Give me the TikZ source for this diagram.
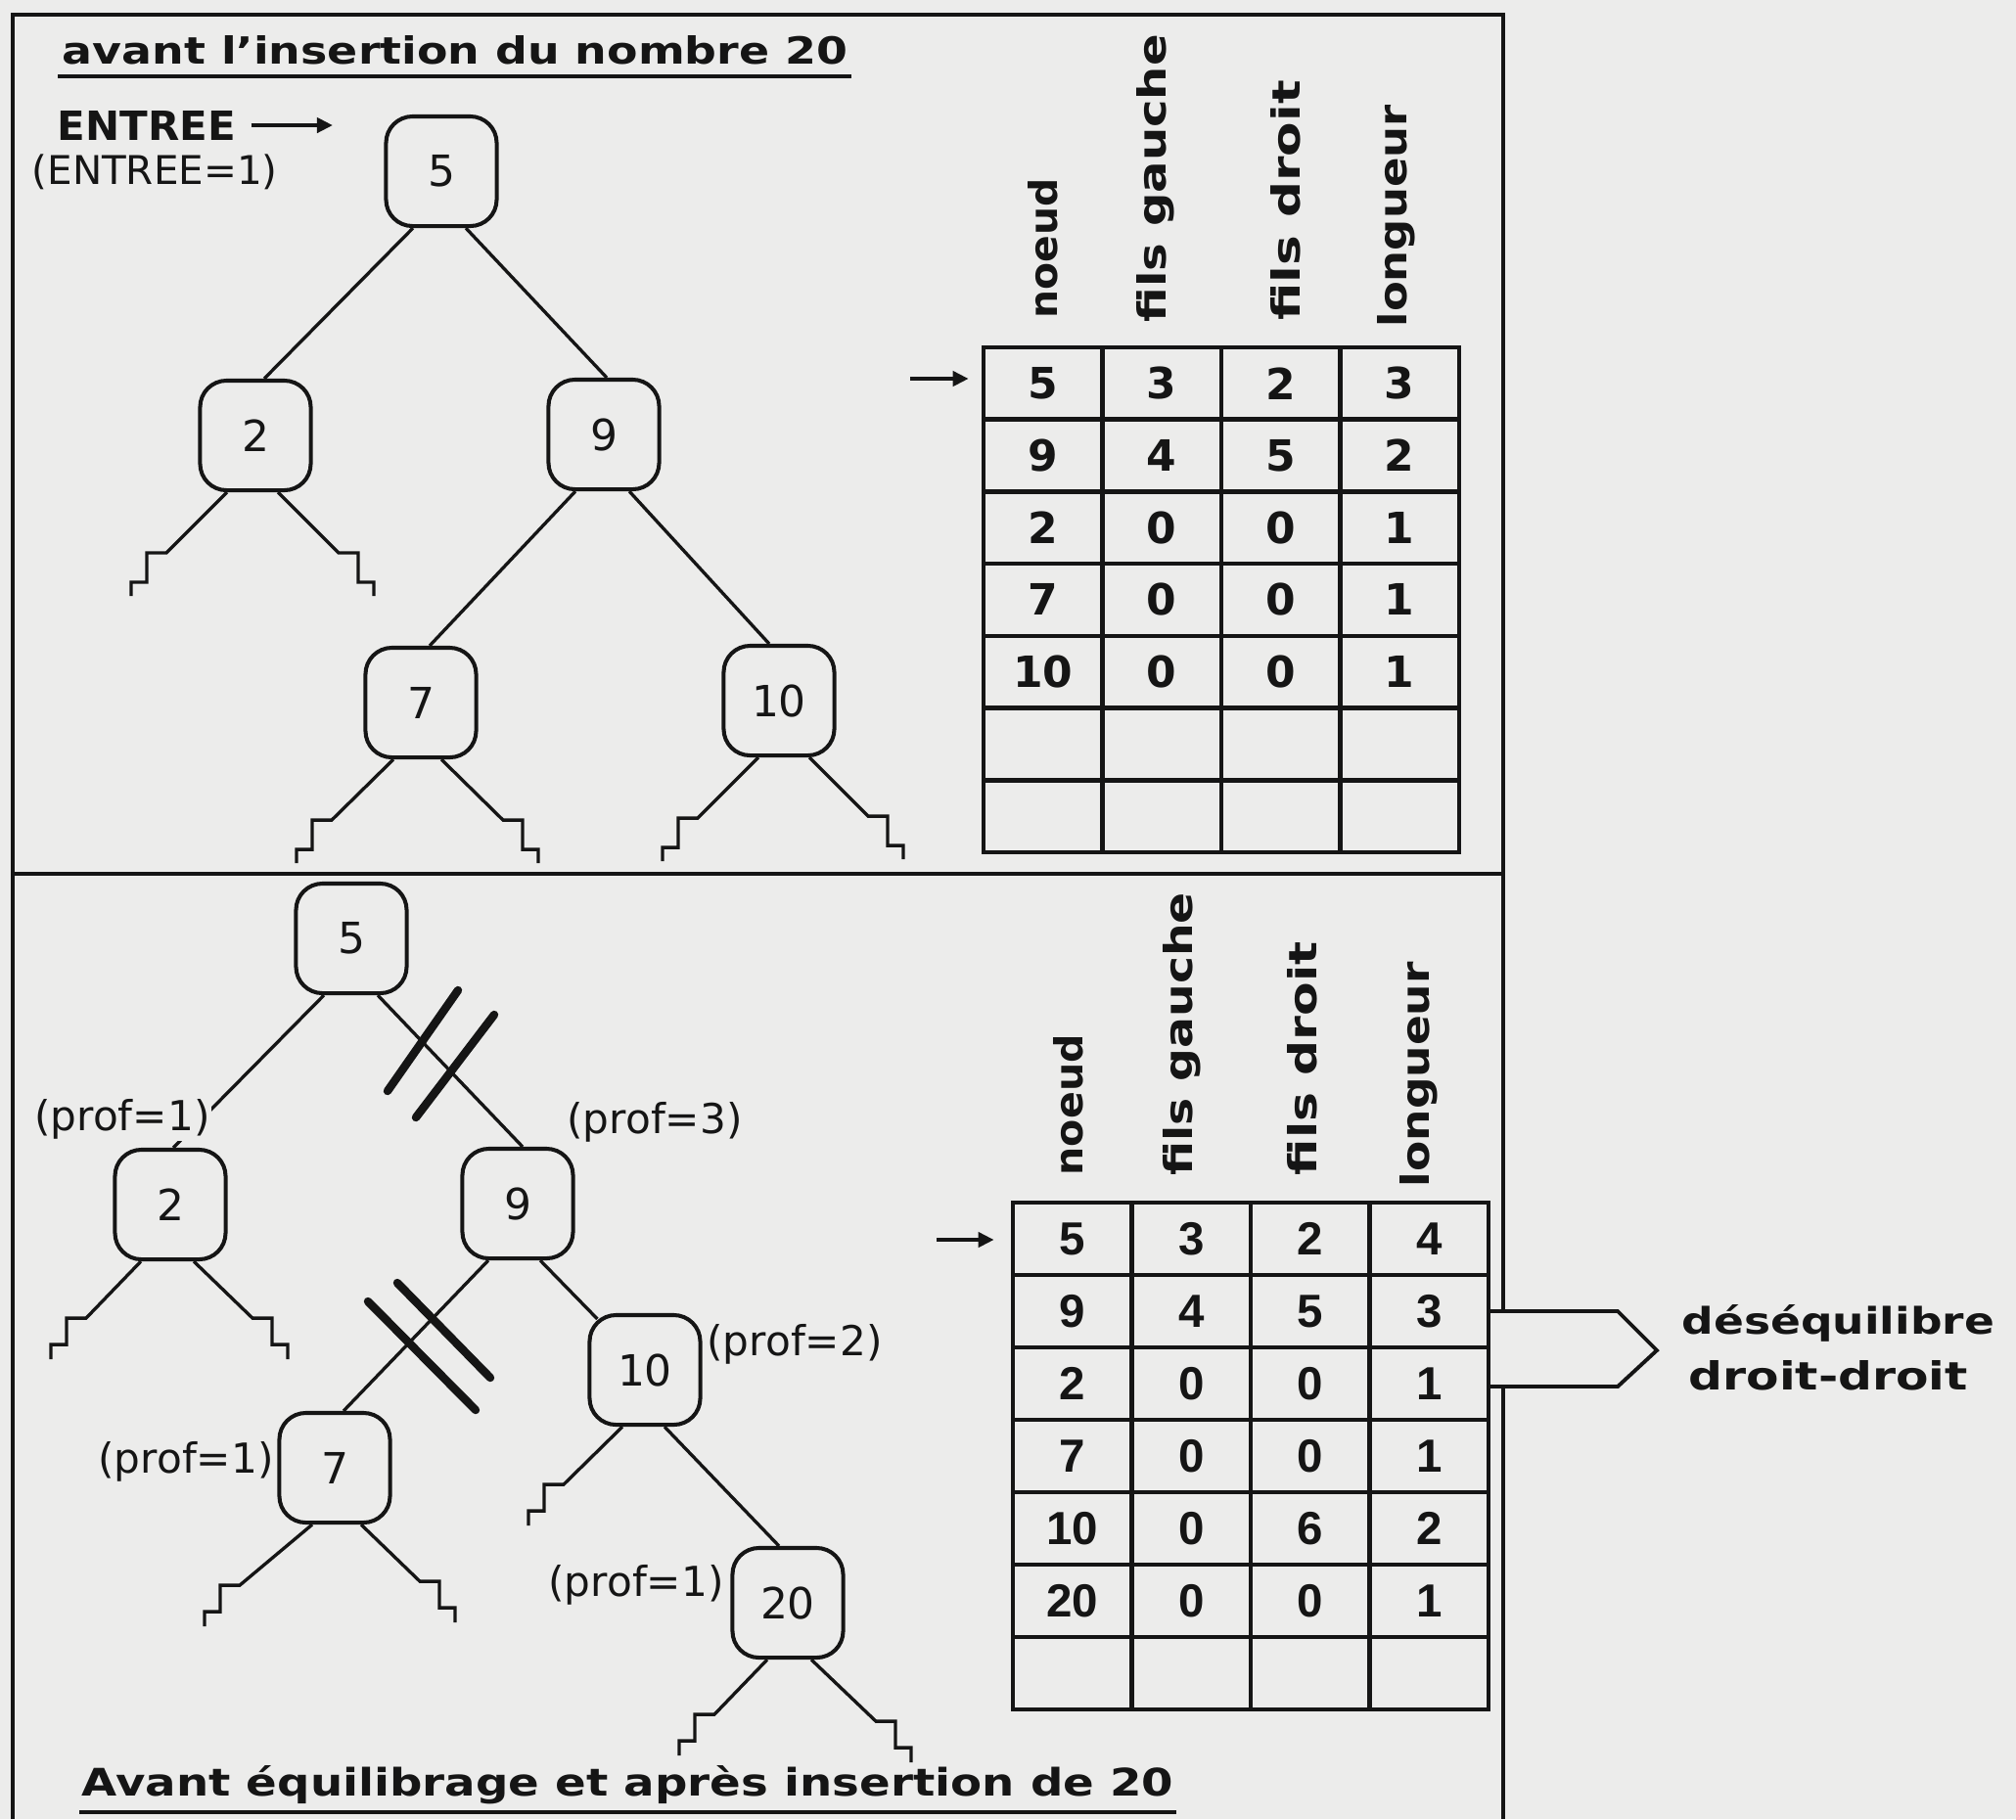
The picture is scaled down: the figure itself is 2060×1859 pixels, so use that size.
\documentclass[tikz,border=0pt]{standalone}
\usepackage{fontspec}
\usepackage{graphicx}
\setmainfont{DejaVu Sans}
\newfontfamily\cellfont{Liberation Sans}
\usetikzlibrary{calc,arrows.meta}
\definecolor{paper}{HTML}{ECECEB}
\definecolor{ink}{HTML}{151515}
% scale a piece of text to a given width and height
\newcommand\fitto[3]{\resizebox{#1}{#2}{#3}}
% open subtree: slanted line from a node, ending in a small staircase
% #1 node, #2 x offset on its bottom side, #3/#4 slanted part, #5 side (-1/1), #6/#7 the two risers
\newcommand\stub[7]{\draw[edge] ($(#1.south)+(#2,0)$) -- ++(#3,#4) -- ++({#5*20},0) -- ++(0,#6) -- ++({#5*16},0) -- ++(0,#7);}
\begin{document}
\begin{tikzpicture}[x=0.01cm,y=-0.01cm,
  frame/.style={ink, line width=1.2pt},
  edge/.style={ink, line width=0.95pt},
  slash/.style={ink, line width=2.4pt, line cap=round},
  arrowk/.style={ink, line width=1.2pt, -{Triangle[length=0.16cm,width=0.15cm]}},
  tnode/.style={draw=ink, line width=1.15pt, rounded corners=0.27cm,
    minimum width=1.13cm, minimum height=1.12cm, inner sep=0pt, text=ink,
    font=\fontsize{12.5}{14}\selectfont},
  cellU/.style={draw=ink, line width=1.3pt, minimum width=1.215cm, minimum height=0.737cm, inner sep=0pt},
  cellL/.style={draw=ink, line width=1.3pt, minimum width=1.215cm, minimum height=0.74cm, inner sep=0pt},
  numU/.style={text=ink, inner sep=0pt, font=\fontsize{12.5}{14}\selectfont\bfseries},
  numL/.style={text=ink, inner sep=0pt, font=\fontsize{13.5}{15}\cellfont\bfseries},
  lab/.style={text=ink, inner sep=0.5pt, fill=paper, anchor=base west, font=\fontsize{12}{14}\selectfont},
  hdr/.style={text=ink, inner sep=0pt, rotate=90, anchor=base west},
  txt/.style={text=ink, inner sep=0pt, anchor=base west}]

% page
\fill[paper] (0,0) rectangle (2060,1859);
\useasboundingbox (0,0) rectangle (2060,1859);

% outer frame and divider
\draw[frame] (13,1859) -- (13,15) -- (1536,15) -- (1536,1859);
\draw[frame] (13,893) -- (1536,893);

% ---------------- upper panel ----------------
\node[txt] (title1) at (63,65) {\fitto{8.02cm}{0.29cm}{\bfseries avant l'insertion du nombre 20}};
\draw[ink, line width=1.15pt] ($(title1.base west)+(-4,13)$) -- ($(title1.base east)+(3,13)$);

\node[txt] (entree) at (58,143) {\fitto{1.82cm}{0.30cm}{\bfseries ENTREE}};
\coordinate (entreeTip) at (340,128);
\draw[arrowk] ($(entree.base east)+(15,-15)$) -- (entreeTip);
\node[txt, font=\fontsize{11.5}{14}\selectfont] (entreeval) at (32,188) {(ENTREE=1)};

\node[tnode] (a5) at (451,175) {5};
\node[tnode] (a2) at (261,445) {2};
\node[tnode] (a9) at (617,444) {9};
\node[tnode] (a7) at (430,718) {7};
\node[tnode] (a10) at (796,716) {10};

\draw[edge] ($(a5.south)+(-29,0)$) -- ($(a2.north)+(9,0)$);
\draw[edge] ($(a5.south)+(25,0)$) -- ($(a9.north)+(3,0)$);
\draw[edge] ($(a9.south)+(-29,0)$) -- ($(a7.north)+(9,0)$);
\draw[edge] ($(a9.south)+(26,0)$) -- ($(a10.north)+(-10,0)$);

\stub{a2}{-29}{-62}{62}{-1}{30}{14}
\stub{a2}{23}{62}{62}{1}{30}{14}
\stub{a7}{-28}{-63}{62}{-1}{30}{14}
\stub{a7}{21}{63}{62}{1}{30}{14}
\stub{a10}{-21}{-62}{62}{-1}{30}{14}
\stub{a10}{31}{60}{60}{1}{30}{14}

% upper table
\foreach \r in {1,...,7} \foreach \c in {1,...,4}
  \node[cellU] (U\r\c) at ({1005+121.5*(\c-0.5)},{355+73.7*(\r-0.5)}) {};
\foreach \r/\a/\b/\c/\d in {1/5/3/2/3,2/9/4/5/2,3/2/0/0/1,4/7/0/0/1,5/10/0/0/1} {
  \node[numU] (nU\r1) at (U\r1) {\a};
  \node[numU] (nU\r2) at (U\r2) {\b};
  \node[numU] (nU\r3) at (U\r3) {\c};
  \node[numU] (nU\r4) at (U\r4) {\d};
}
\node[hdr] (hU1) at (1080,326) {\fitto{1.43cm}{0.30cm}{\bfseries noeud}};
\node[hdr] (hU2) at (1191,330) {\fitto{2.94cm}{0.30cm}{\bfseries fils gauche}};
\node[hdr] (hU3) at (1328,328) {\fitto{2.45cm}{0.30cm}{\bfseries fils droit}};
\node[hdr] (hU4) at (1437,335) {\fitto{2.27cm}{0.30cm}{\bfseries longueur}};
\coordinate (uTail) at (930,387);
\draw[arrowk, shorten >=0.13cm] (uTail) -- (uTail -| U11.west);

% ---------------- lower panel ----------------
% pointer towards the diagnosis, laid over the frame line
\coordinate (pb) at (1521,1377);
\filldraw[fill=paper, draw=ink, line width=1.1pt] ($(pb)+(0,-37)$) -- ++(132,0) -- ++(40,40) -- ++(-40,37) -- ++(-132,0);
\node[txt] (deseq) at (1718,1363) {\fitto{3.19cm}{0.30cm}{\bfseries déséquilibre}};
\node[txt] (drdr) at (1725,1420) {\fitto{2.85cm}{0.30cm}{\bfseries droit-droit}};

\node[tnode] (b5) at (359,959) {5};
\node[tnode] (b2) at (174,1231) {2};
\node[tnode] (b9) at (529,1230) {9};
\node[tnode] (b7) at (342,1500) {7};
\node[tnode] (b10) at (659,1400) {10};
\node[tnode] (b20) at (805,1638) {20};

\draw[edge] ($(b5.south)+(-28,0)$) -- ($(b2.north)+(3,0)$);
\draw[edge] ($(b5.south)+(27,0)$) -- ($(b9.north)+(5,0)$);
\draw[edge] ($(b9.south)+(-30,0)$) -- ($(b7.north)+(9,0)$);
\draw[edge] ($(b9.south)+(23,0)$) -- ($(b10.north west)+(10,6)$);
\draw[edge] ($(b10.south)+(20,0)$) -- ($(b20.north)+(-9,0)$);

\stub{b2}{-30}{-56}{58}{-1}{27}{15}
\stub{b2}{24}{60}{58}{1}{27}{15}
\stub{b10}{-23}{-60}{59}{-1}{27}{15}
\stub{b7}{-23}{-74}{62}{-1}{27}{15}
\stub{b7}{27}{60}{58}{1}{27}{15}
\stub{b20}{-21}{-54}{56}{-1}{27}{15}
\stub{b20}{24}{66}{63}{1}{27}{15}

% cut marks on the two edges that will be rearranged
\draw[slash] (396,1115) -- (468,1012);
\draw[slash] (425,1142) -- (505,1037);
\draw[slash] (376,1330) -- (486,1441);
\draw[slash] (406,1311) -- (501,1408);

% depths
\node[lab] (pr2) at (33,1155) {(prof=1)};
\node[lab] (pr9) at (577,1158) {(prof=3)};
\node[lab] (pr10) at (720,1385) {(prof=2)};
\node[lab] (pr7) at (98,1505) {(prof=1)};
\node[lab] (pr20) at (558,1631) {(prof=1)};

% lower table
\foreach \r in {1,...,7} \foreach \c in {1,...,4}
  \node[cellL] (L\r\c) at ({1035+121.5*(\c-0.5)},{1229+74*(\r-0.5)}) {};
\foreach \r/\a/\b/\c/\d in {1/5/3/2/4,2/9/4/5/3,3/2/0/0/1,4/7/0/0/1,5/10/0/6/2,6/20/0/0/1} {
  \node[numL] (nL\r1) at (L\r1) {\a};
  \node[numL] (nL\r2) at (L\r2) {\b};
  \node[numL] (nL\r3) at (L\r3) {\c};
  \node[numL] (nL\r4) at (L\r4) {\d};
}
\node[hdr] (hL1) at (1106,1202) {\fitto{1.44cm}{0.30cm}{\bfseries noeud}};
\node[hdr] (hL2) at (1218,1202) {\fitto{2.89cm}{0.30cm}{\bfseries fils gauche}};
\node[hdr] (hL3) at (1345,1202) {\fitto{2.39cm}{0.30cm}{\bfseries fils droit}};
\node[hdr] (hL4) at (1460,1214) {\fitto{2.30cm}{0.30cm}{\bfseries longueur}};
\coordinate (lTail) at (957,1267);
\draw[arrowk, shorten >=0.17cm] (lTail) -- (lTail -| L11.west);

\node[txt] (title2) at (83,1835) {\fitto{11.15cm}{0.31cm}{\bfseries Avant équilibrage et après insertion de 20}};
\draw[ink, line width=1.15pt] ($(title2.base west)+(-2,17)$) -- ($(title2.base east)+(2,17)$);
\end{tikzpicture}
\end{document}
